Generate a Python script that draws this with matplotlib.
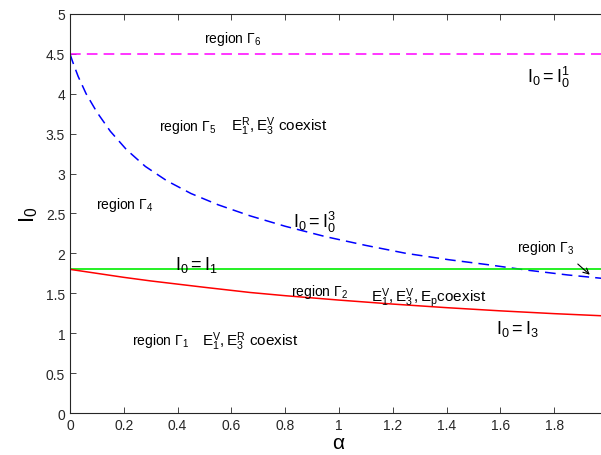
import numpy as np
import matplotlib
matplotlib.use('Agg')
import matplotlib.pyplot as plt

# values
alpha_blue = [0, 0.01, 0.03, 0.06, 0.1, 0.15, 0.21, 0.28, 0.36, 0.45, 0.55, 0.67,
              0.8, 0.95, 1.1, 1.25, 1.41, 1.55, 1.7, 1.85, 2.0]
I0_blue = [4.50, 4.40, 4.22, 4.00, 3.77, 3.53, 3.30, 3.09, 2.91, 2.75, 2.61, 2.47,
           2.34, 2.21, 2.10, 2.00, 1.92, 1.86, 1.79, 1.73, 1.68]
alpha_red = [0, 0.1, 0.2, 0.3, 0.4, 0.5, 0.67, 0.8, 1.0, 1.2, 1.4, 1.6, 1.8, 2.0]
I0_red = [1.80, 1.75, 1.70, 1.655, 1.615, 1.575, 1.51, 1.47, 1.415, 1.365, 1.32,
          1.28, 1.245, 1.215]
alpha_flat = [0, 2.0]
I0_one = [1.8, 1.8]
I0_top = [4.5, 4.5]

plt.rcParams['font.family'] = 'Liberation Sans'
plt.rcParams['mathtext.fontset'] = 'custom'
plt.rcParams['mathtext.rm'] = 'Liberation Sans'
plt.rcParams['mathtext.it'] = 'Liberation Sans'

fig = plt.figure(figsize=(6.01, 4.56), dpi=100)
# axes run past the right edge of the picture, like the cropped reference
ax = fig.add_axes([70/601, 1 - 414/456, 538/601, 399/456])

ax.plot(alpha_flat, I0_top, color='#ff00ff', lw=1.1, dashes=(7, 4))
ax.plot(alpha_blue, I0_blue, color='#0000ff', lw=1.1, dashes=(7, 4))
ax.plot(alpha_flat, I0_one, color='#00ee00', lw=1.2)
ax.plot(alpha_red, I0_red, color='#ff0000', lw=1.1)

ax.set_xlim(0, 2)
ax.set_ylim(0, 5)
ax.set_xticks([0, 0.2, 0.4, 0.6, 0.8, 1, 1.2, 1.4, 1.6, 1.8])
ax.set_xticklabels(['0', '0.2', '0.4', '0.6', '0.8', '1', '1.2', '1.4', '1.6', '1.8'])
ax.set_yticks(np.arange(0, 5.01, 0.5))
ax.set_yticklabels(['0', '0.5', '1', '1.5', '2', '2.5', '3', '3.5', '4', '4.5', '5'])
ax.tick_params(direction='in', top=True, right=True, length=4, labelsize=10,
               colors='#262626', width=0.6)
for s in ax.spines.values():
    s.set_color('#262626')
    s.set_linewidth(0.8)

ax.set_xlabel(r'$\alpha$', fontsize=15, labelpad=1)
ax.set_ylabel(r'$\mathrm{I_0}$', fontsize=16, labelpad=4)

fs = 10
fe = 13
ax.text(0.605, 4.70, r'region $\Gamma_6$', fontsize=fs, ha='center', va='center')
ax.text(1.70, 4.22, r'$\mathrm{I_0=I_0^1}$', fontsize=fe, va='center')
ax.text(0.33, 3.6, r'region $\Gamma_5$', fontsize=fs, va='center')
ax.text(0.6, 3.6, r'$\mathrm{E_1^R,E_3^V}$ coexist', fontsize=fs + 1, va='center')
ax.text(0.095, 2.62, r'region $\Gamma_4$', fontsize=fs, va='center')
ax.text(0.83, 2.40, r'$\mathrm{I_0=I_0^3}$', fontsize=fe, va='center')
ax.text(1.66, 2.08, r'region $\Gamma_3$', fontsize=fs, va='center')
ax.annotate('', xy=(1.94, 1.71), xytext=(1.88, 1.89),
            arrowprops=dict(arrowstyle='->', color='black', lw=0.8))
ax.text(0.39, 1.87, r'$\mathrm{I_0=I_1}$', fontsize=fe, va='center')
ax.text(0.82, 1.53, r'region $\Gamma_2$', fontsize=fs, va='center')
ax.text(1.12, 1.46, r'$\mathrm{E_1^V,E_3^V,E_p}$coexist', fontsize=fs + 1, va='center')
ax.text(1.585, 1.06, r'$\mathrm{I_0=I_3}$', fontsize=fe, va='center')
ax.text(0.23, 0.91, r'region $\Gamma_1$', fontsize=fs, va='center')
ax.text(0.49, 0.91, r'$\mathrm{E_1^V,E_3^R}$ coexist', fontsize=fs + 1, va='center')

fig.savefig('out.png', dpi=100)
